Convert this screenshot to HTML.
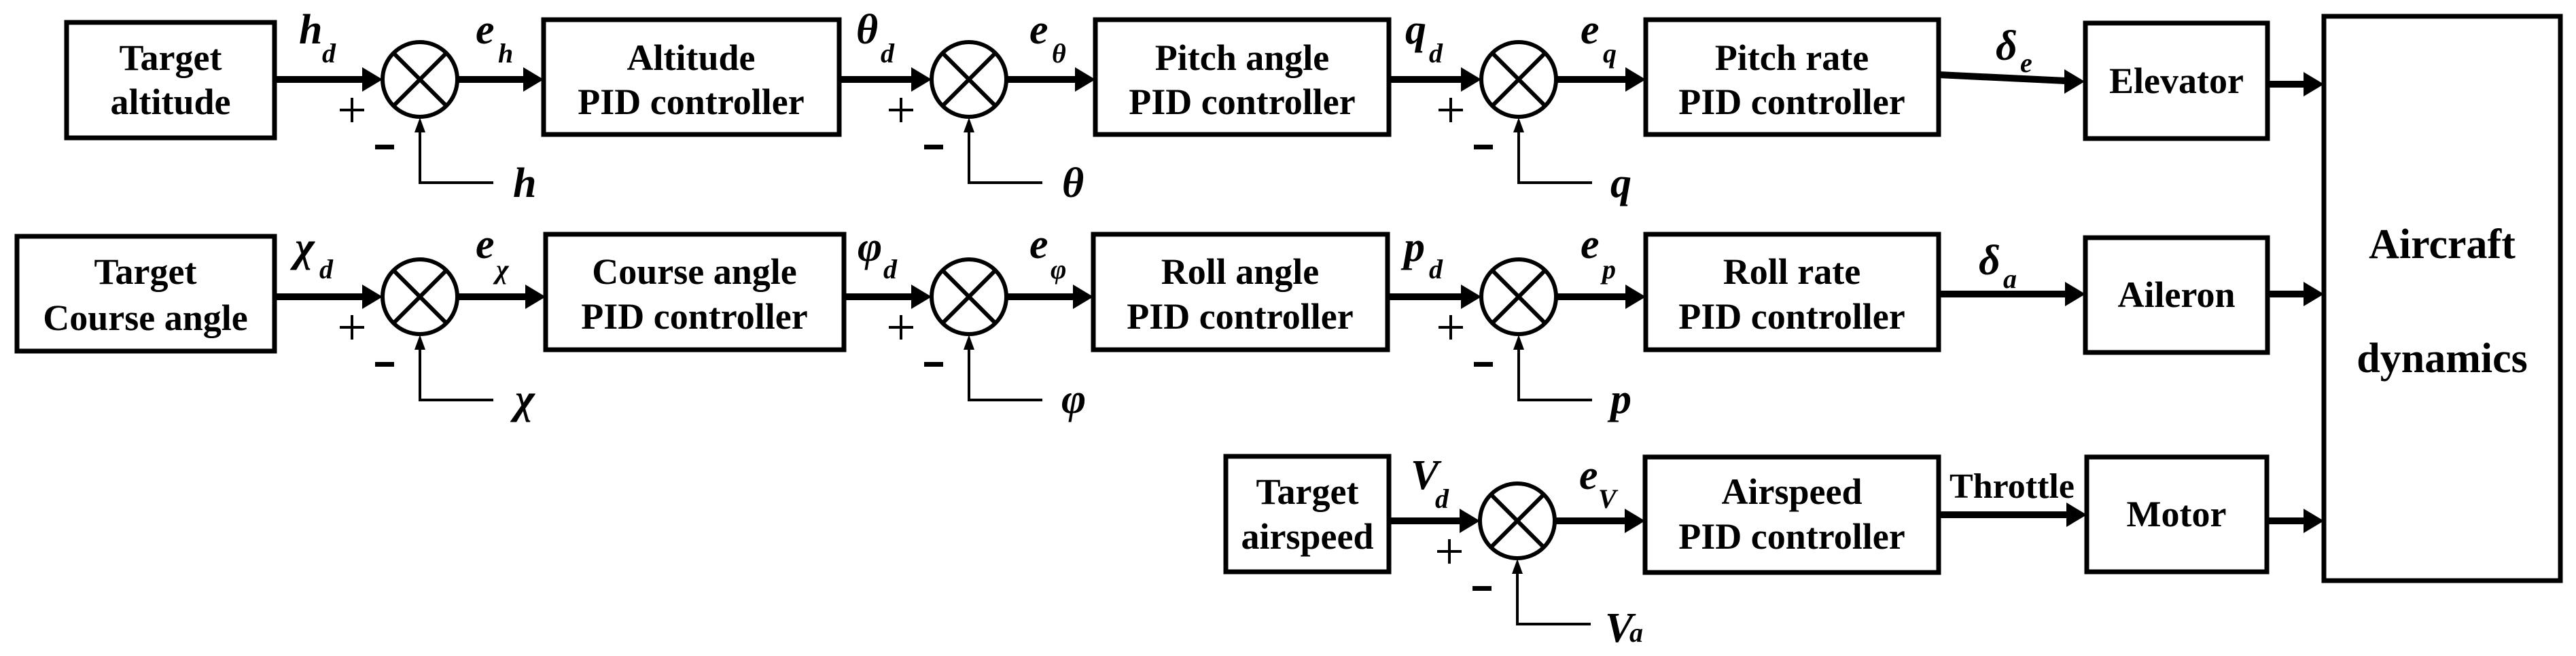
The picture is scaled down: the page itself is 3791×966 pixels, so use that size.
<!DOCTYPE html>
<html><head><meta charset="utf-8"><style>
html,body{margin:0;padding:0;background:#fff;}
svg{display:block;}
.b{fill:none;stroke:#000;stroke-width:7;}
.t{font-family:"Liberation Serif",serif;font-weight:bold;font-size:54px;text-anchor:middle;fill:#000;}
.m{font-family:"Liberation Serif",serif;font-weight:bold;font-style:italic;font-size:62px;fill:#000;}
.s{font-family:"Liberation Serif",serif;font-weight:bold;font-style:italic;font-size:40px;fill:#000;}
.sh{stroke:#000;stroke-width:10;fill:none;}
.fb{stroke:#000;stroke-width:4;fill:none;}
.c{fill:none;stroke:#000;stroke-width:6;}
</style></head><body>
<svg width="3791" height="966" viewBox="0 0 3791 966" xmlns="http://www.w3.org/2000/svg">
<defs>
<g id="sum">
<circle cx="0" cy="0" r="55" class="c"/>
<line x1="-39" y1="-39" x2="39" y2="39" stroke="#000" stroke-width="6"/>
<line x1="39" y1="-39" x2="-39" y2="39" stroke="#000" stroke-width="6"/>
<polygon points="0,56 -8,78 8,78" fill="#000"/>
<line x1="0" y1="76" x2="0" y2="152" class="fb"/>
<line x1="-2" y1="152" x2="108" y2="152" class="fb"/>
<line x1="-118" y1="45" x2="-82" y2="45" stroke="#000" stroke-width="4"/>
<line x1="-100" y1="27" x2="-100" y2="63" stroke="#000" stroke-width="4"/>
<rect x="-66" y="96" width="28" height="7" fill="#000"/>
</g>
</defs>

<!-- Row 1 -->
<rect x="98" y="33" width="306" height="170" class="b"/>
<text class="t" x="251" y="103">Target</text><text class="t" x="251" y="168">altitude</text>
<line x1="404" y1="117" x2="535" y2="117" class="sh"/><polygon points="563,117 533,99 533,135"/>
<use href="#sum" x="618" y="117"/>
<line x1="673" y1="117" x2="772" y2="117" class="sh"/><polygon points="800,117 770,99 770,135"/>
<rect x="800" y="29" width="435" height="169" class="b"/>
<text class="t" x="1017" y="103">Altitude</text><text class="t" x="1017" y="168">PID controller</text>
<line x1="1235" y1="117" x2="1343" y2="117" class="sh"/><polygon points="1371,117 1341,99 1341,135"/>
<use href="#sum" x="1426" y="117"/>
<line x1="1481" y1="117" x2="1584" y2="117" class="sh"/><polygon points="1612,117 1582,99 1582,135"/>
<rect x="1612" y="29" width="432" height="169" class="b"/>
<text class="t" x="1828" y="103">Pitch angle</text><text class="t" x="1828" y="168">PID controller</text>
<line x1="2044" y1="117" x2="2152" y2="117" class="sh"/><polygon points="2180,117 2150,99 2150,135"/>
<use href="#sum" x="2235" y="117"/>
<line x1="2290" y1="117" x2="2394" y2="117" class="sh"/><polygon points="2422,117 2392,99 2392,135"/>
<rect x="2422" y="29" width="431" height="169" class="b"/>
<text class="t" x="2637" y="103">Pitch rate</text><text class="t" x="2637" y="168">PID controller</text>
<line x1="2853" y1="110" x2="3040" y2="119" class="sh"/><polygon points="3068,120 3038,102 3038,138"/>
<rect x="3069" y="34" width="268" height="170" class="b"/>
<text class="t" x="3203" y="137">Elevator</text>
<line x1="3337" y1="124" x2="3392" y2="124" class="sh"/><polygon points="3420,124 3390,106 3390,142"/>
<rect x="3420" y="24" width="348" height="831" class="b"/>
<text class="t" x="3594" y="380" style="font-size:62px">Aircraft</text>
<text class="t" x="3594" y="548" style="font-size:62px">dynamics</text>

<text class="m" x="440" y="64">h</text><text class="s" x="474" y="92">d</text>
<text class="m" x="700" y="64">e</text><text class="s" x="733" y="92">h</text>
<text class="m" x="755" y="290">h</text>
<text class="m" x="1260" y="64">θ</text><text class="s" x="1296" y="92">d</text>
<text class="m" x="1515" y="64">e</text><text class="s" x="1548" y="92">θ</text>
<text class="m" x="1563" y="290">θ</text>
<text class="m" x="2068" y="64">q</text><text class="s" x="2103" y="92">d</text>
<text class="m" x="2326" y="64">e</text><text class="s" x="2359" y="92">q</text>
<text class="m" x="2370" y="290">q</text>
<text class="m" x="2937" y="88">δ</text><text class="s" x="2973" y="106">e</text>

<!-- Row 2 -->
<rect x="25" y="348" width="379" height="169" class="b"/>
<text class="t" x="214" y="418">Target</text><text class="t" x="214" y="486">Course angle</text>
<line x1="404" y1="437" x2="535" y2="437" class="sh"/><polygon points="563,437 533,419 533,455"/>
<use href="#sum" x="618" y="437"/>
<line x1="673" y1="437" x2="775" y2="437" class="sh"/><polygon points="803,437 773,419 773,455"/>
<rect x="803" y="345" width="439" height="170" class="b"/>
<text class="t" x="1022" y="418">Course angle</text><text class="t" x="1022" y="484">PID controller</text>
<line x1="1242" y1="437" x2="1343" y2="437" class="sh"/><polygon points="1371,437 1341,419 1341,455"/>
<use href="#sum" x="1426" y="437"/>
<line x1="1481" y1="437" x2="1581" y2="437" class="sh"/><polygon points="1609,437 1579,419 1579,455"/>
<rect x="1609" y="345" width="433" height="170" class="b"/>
<text class="t" x="1825" y="418">Roll angle</text><text class="t" x="1825" y="484">PID controller</text>
<line x1="2042" y1="437" x2="2152" y2="437" class="sh"/><polygon points="2180,437 2150,419 2150,455"/>
<use href="#sum" x="2235" y="437"/>
<line x1="2290" y1="437" x2="2394" y2="437" class="sh"/><polygon points="2422,437 2392,419 2392,455"/>
<rect x="2422" y="345" width="431" height="170" class="b"/>
<text class="t" x="2637" y="418">Roll rate</text><text class="t" x="2637" y="484">PID controller</text>
<line x1="2853" y1="433" x2="3041" y2="433" class="sh"/><polygon points="3069,433 3039,415 3039,451"/>
<rect x="3069" y="350" width="268" height="169" class="b"/>
<text class="t" x="3203" y="452">Aileron</text>
<line x1="3337" y1="433" x2="3392" y2="433" class="sh"/><polygon points="3420,433 3390,415 3390,451"/>

<text class="m" x="434" y="384">χ</text><text class="s" x="470" y="410">d</text>
<text class="m" x="700" y="380">e</text><text class="s" x="730" y="410">χ</text>
<text class="m" x="758" y="608">χ</text>
<text class="m" x="1262" y="384">φ</text><text class="s" x="1300" y="410">d</text>
<text class="m" x="1515" y="380">e</text><text class="s" x="1546" y="410">φ</text>
<text class="m" x="1562" y="608">φ</text>
<text class="m" x="2066" y="384">p</text><text class="s" x="2103" y="410">d</text>
<text class="m" x="2326" y="380">e</text><text class="s" x="2358" y="410">p</text>
<text class="m" x="2370" y="608">p</text>
<text class="m" x="2912" y="404">δ</text><text class="s" x="2948" y="424">a</text>

<!-- Row 3 -->
<rect x="1804" y="672" width="240" height="170" class="b"/>
<text class="t" x="1924" y="742">Target</text><text class="t" x="1924" y="808">airspeed</text>
<line x1="2044" y1="767" x2="2150" y2="767" class="sh"/><polygon points="2178,767 2148,749 2148,785"/>
<use href="#sum" x="2233" y="767"/>
<line x1="2288" y1="767" x2="2393" y2="767" class="sh"/><polygon points="2421,767 2391,749 2391,785"/>
<rect x="2421" y="673" width="432" height="170" class="b"/>
<text class="t" x="2637" y="742">Airspeed</text><text class="t" x="2637" y="808">PID controller</text>
<text class="t" x="2961" y="733" style="font-size:52px">Throttle</text>
<line x1="2853" y1="758" x2="3043" y2="758" class="sh"/><polygon points="3071,758 3041,740 3041,776"/>
<rect x="3071" y="673" width="265" height="169" class="b"/>
<text class="t" x="3203" y="775">Motor</text>
<line x1="3336" y1="767" x2="3392" y2="767" class="sh"/><polygon points="3420,767 3390,749 3390,785"/>

<text class="m" x="2076" y="720">V</text><text class="s" x="2112" y="748">d</text>
<text class="m" x="2324" y="720">e</text><text class="s" x="2352" y="748">V</text>
<text class="m" x="2362" y="945">V</text><text class="s" x="2398" y="945">a</text>
</svg>
</body></html>
